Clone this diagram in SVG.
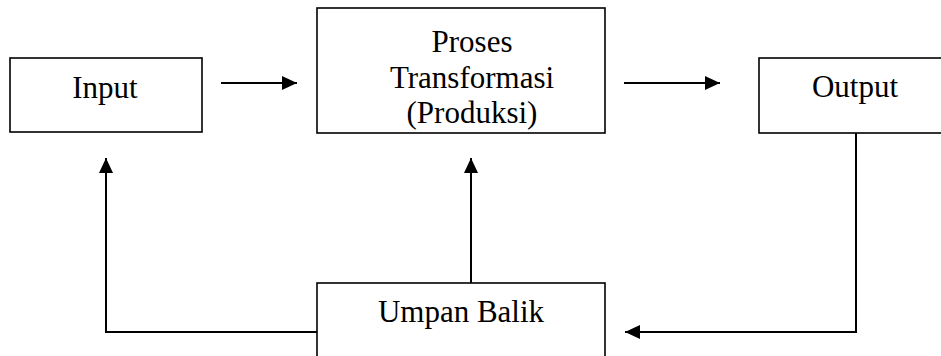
<svg xmlns="http://www.w3.org/2000/svg" width="941" height="356" viewBox="0 0 941 356">
  <style>
    .box { fill: #fff; stroke: #000; stroke-width: 1.6; }
    .lbl { font-family: "Liberation Serif", "Times New Roman", serif; font-size: 31px; fill: #000; text-anchor: middle; }
    .wire { fill: none; stroke: #000; stroke-width: 2; }
  </style>
  <defs>
    <marker id="head" viewBox="0 0 15 14" refX="15" refY="7" markerWidth="15" markerHeight="14" markerUnits="userSpaceOnUse" orient="auto">
      <path d="M0,0 L15,7 L0,14 Z" fill="#000"/>
    </marker>
  </defs>
  <rect width="941" height="356" fill="#fff"/>

  <g id="input">
    <rect class="box" x="10" y="58" width="192" height="74"/>
    <text class="lbl" x="105" y="98">Input</text>
  </g>

  <g id="proses">
    <rect class="box" x="317" y="8" width="288" height="125"/>
    <text class="lbl" x="472" y="52">Proses</text>
    <text class="lbl" x="472" y="88">Transformasi</text>
    <text class="lbl" x="472" y="123">(Produksi)</text>
  </g>

  <g id="output">
    <rect class="box" x="759" y="58" width="190" height="75"/>
    <text class="lbl" x="855" y="97">Output</text>
  </g>

  <g id="umpan-balik">
    <rect class="box" x="317" y="283" width="288" height="80"/>
    <text class="lbl" x="461" y="322">Umpan Balik</text>
  </g>

  <g id="connectors">
    <line class="wire" x1="221" y1="83" x2="297" y2="83" marker-end="url(#head)"/>
    <line class="wire" x1="624" y1="83" x2="720" y2="83" marker-end="url(#head)"/>
    <polyline class="wire" points="856,133 856,332 625,332" marker-end="url(#head)"/>
    <line class="wire" x1="471" y1="283" x2="471" y2="158" marker-end="url(#head)"/>
    <polyline class="wire" points="317,332 106,332 106,158" marker-end="url(#head)"/>
  </g>
</svg>
